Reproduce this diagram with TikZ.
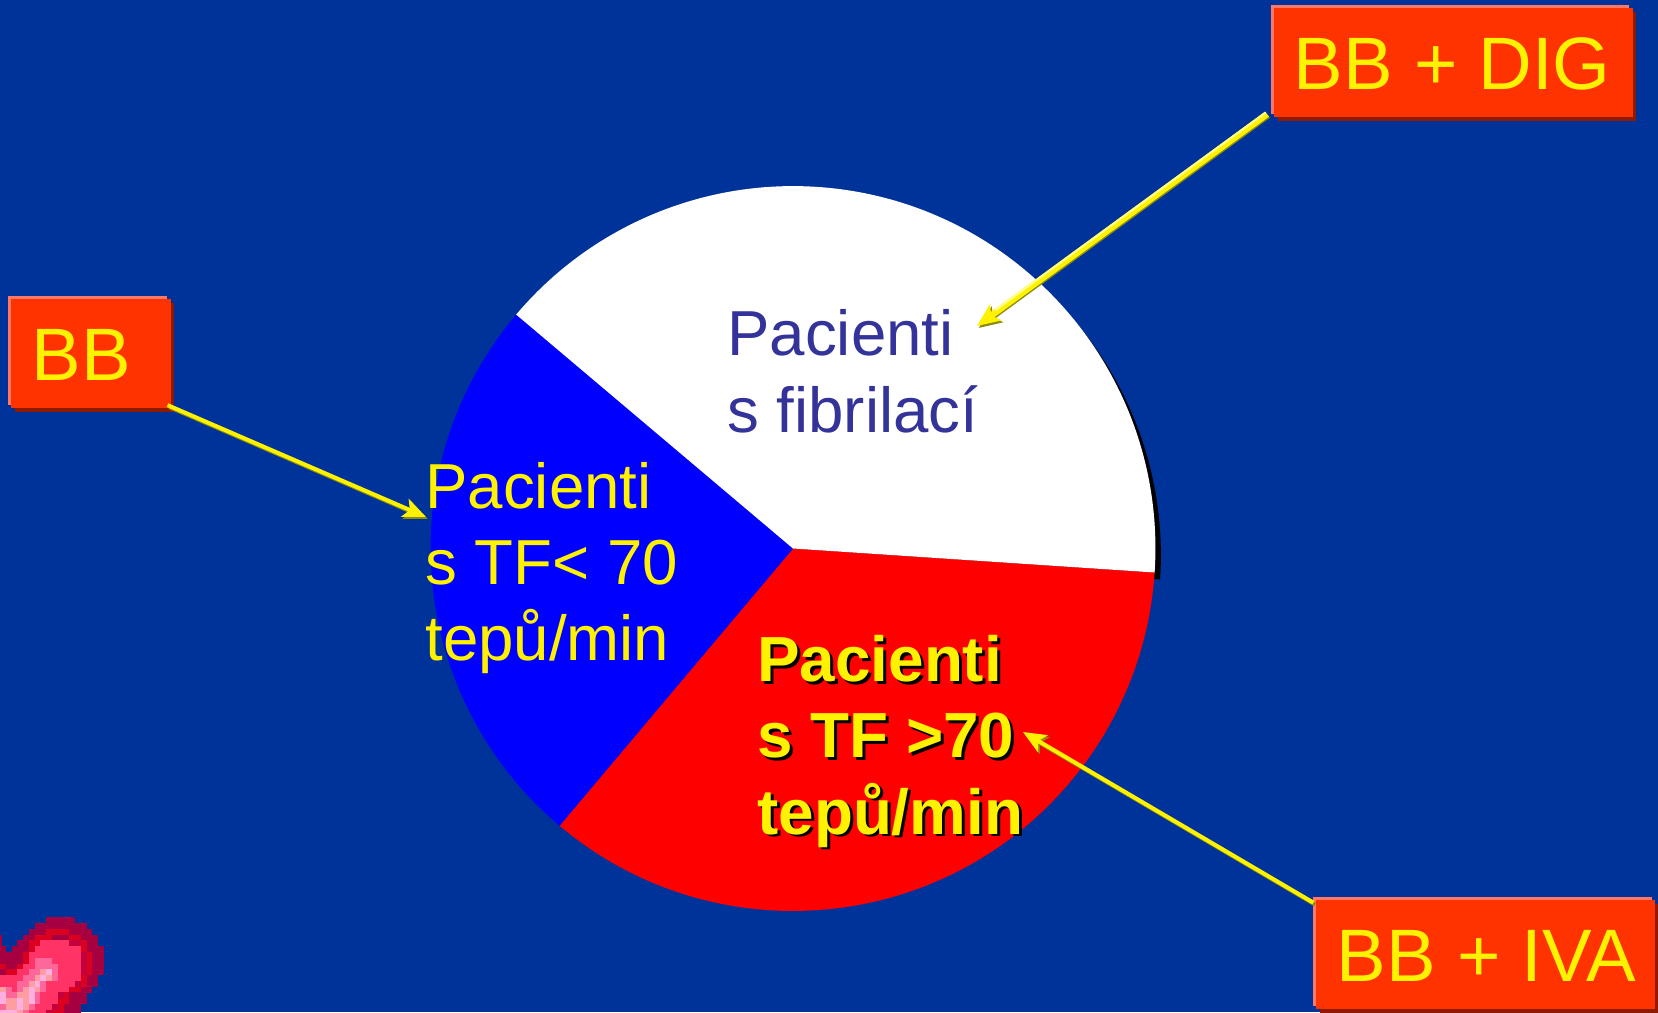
\documentclass[tikz,border=0pt]{standalone}
\usepackage{fontspec}
\setmainfont{Liberation Sans}
\usepackage{xcolor}
\usepackage{tikz}
\usetikzlibrary{arrows.meta,positioning,shadows}

\definecolor{slidebg}{HTML}{003399}
\definecolor{tagred}{HTML}{FF3300}
\definecolor{taglight}{HTML}{FF7766}
\definecolor{tagdark}{HTML}{8F1A00}
\definecolor{indigotext}{HTML}{333399}
\definecolor{arrowolive}{HTML}{8C8C10}
\definecolor{arrowlight}{HTML}{FFFF90}
\definecolor{heartD}{HTML}{A60040}
\definecolor{heartC}{HTML}{C4003C}
\definecolor{heartR}{HTML}{DC0020}
\definecolor{heartP}{HTML}{FF3366}
\definecolor{heartL}{HTML}{FF6699}
\definecolor{heartF}{HTML}{FF9EA0}
\definecolor{heartW}{HTML}{FFB0E0}

\begin{document}
\begin{tikzpicture}[
    x=0.02cm, y=-0.02cm,
    tagbox/.style={anchor=north west, rectangle, fill=tagred, text=yellow, inner xsep=10.5pt, inner ysep=0pt,
        font=\fontsize{42.3}{48}\selectfont, align=left, text height=30pt, text depth=0pt, minimum height=62pt,
        general shadow={fill=taglight, shadow xshift=-2pt, shadow yshift=1.7pt},
        general shadow={fill=tagdark, shadow xshift=2pt, shadow yshift=-2.2pt}},
    slicetext/.style={anchor=base west, inner sep=0pt, align=left, font=\fontsize{36.2}{43.4}\selectfont},
    boldtext/.style={slicetext, font=\fontsize{36.3}{43.4}\selectfont\bfseries},
    linkarrow/.style={draw=yellow, line width=2.3pt, -{Stealth[length=13pt,width=11pt,inset=3pt]},
        preaction={draw=arrowolive, line width=2.3pt, -{Stealth[length=13pt,width=11pt,inset=3pt]},
            transform canvas={xshift=1pt,yshift=-1.1pt}}}
]

% Background
\fill[slidebg] (0,0) rectangle (1658,1012);
\useasboundingbox (0,0) rectangle (1658,1012);

% Pie
\coordinate (pie) at (793,548.5);
\fill[black] ([xshift=3.1pt,yshift=-4pt]pie) -- ++(-3.8:7.25cm) arc[start angle=-3.8, end angle=139.8, radius=7.25cm] -- cycle;
\fill[red] (pie) -- ++(229.9:7.25cm) arc[start angle=229.9, end angle=356.2, radius=7.25cm] -- cycle;
\fill[blue] (pie) -- ++(139.8:7.25cm) arc[start angle=139.8, end angle=229.9, radius=7.25cm] -- cycle;
\fill[white] (pie) -- ++(-3.8:7.25cm) arc[start angle=-3.8, end angle=139.8, radius=7.25cm] -- cycle;

% Slice labels
\node[slicetext, text=indigotext] (fibrilace) at (727,432) {Pacienti\\s fibrilací};
\node[slicetext, text=yellow] (tfnizka) at (425,660.5) {Pacienti\\s TF< 70\\tepů/min};
\node[boldtext, text=black] (tfvysokastin) at (760,836.5) {Pacienti\\s TF >70\\tepů/min};
\node[boldtext, text=yellow] (tfvysoka) at (757,834) {Pacienti\\s TF >70\\tepů/min};

% Treatment boxes
\node[tagbox, text width=182pt, minimum width=204pt] (bbdig) at (1274,8) {\spaceskip=0.285em\relax BB + DIG};
\node[tagbox, inner xsep=11.6pt, text width=67.5pt, minimum width=90.7pt] (bb) at (11,299) {BB};
\node[tagbox, inner xsep=11.6pt, text width=169.8pt, minimum width=193pt] (bbiva) at (1316,900) {\spaceskip=0.285em\relax \mbox{BB + IVA}};

% Arrow ends
\coordinate (dightip) at (977,326);
\coordinate (bbtip) at (426,517);
\coordinate (ivatip) at (1023,732);

% Arrows
\draw[linkarrow, line width=3.6pt,
    postaction={draw=arrowlight, line width=1.2pt, arrows=-, shorten >=14pt, transform canvas={xshift=-0.7pt,yshift=0.9pt}}]
    ([xshift=-4pt,yshift=2pt]bbdig.south west) -- (dightip);
\draw[linkarrow] ([xshift=-2pt,yshift=2pt]bb.south east) -- (bbtip);
\draw[linkarrow] ([xshift=-1.5pt,yshift=-1.5pt]bbiva.north west) -- (ivatip);

% Heart
\begin{scope}[shift={(0,917.3)}, x=0.1156cm, y=-0.1156cm]
\foreach \rw/\from/\to/\cc in {
    0/8/12/D, 1/6/14/D, 2/5/15/D, 2/8/11/R,
    3/0/-0.7/D, 3/4/16/D, 3/6/8/R, 3/12/13/R,
    4/0/-0.7/D, 4/3/16/D, 4/5/6/R, 4/7/11/P, 4/12/13/C, 4/14/14/R,
    5/0/0/D, 5/2/17/D, 5/5/5/R, 5/6/13/P, 5/14/14/R,
    6/0/17/D, 6/4/4/R, 6/5/13/P, 6/14/14/C, 6/15/15/R,
    7/0/17/D, 7/4/4/R, 7/5/5/P, 7/6/8/L, 7/9/13/P, 7/14/14/C, 7/15/15/R,
    8/0/17/D, 8/0/0/R, 8/3/3/R, 8/4/5/P, 8/6/9/L, 8/10/13/P, 8/14/14/C, 8/15/15/R,
    9/0/17/D, 9/1/2/R, 9/3/4/P, 9/5/6/L, 9/7/7/F, 9/8/8/W, 9/9/9/L, 9/10/13/P, 9/14/14/C, 9/15/15/R,
    10/0/16/D, 10/0/3/P, 10/4/5/L, 10/6/6/F, 10/7/7/W, 10/8/8/F, 10/9/9/L, 10/10/13/P, 10/14/14/R,
    11/0/16/D, 11/0/2/P, 11/3/4/L, 11/5/5/F, 11/6/6/W, 11/7/7/L, 11/8/12/P, 11/13/13/C, 11/14/14/R,
    12/0/15/D, 12/0/0/F, 12/1/1/L, 12/2/2/P, 12/3/3/L, 12/4/4/F, 12/5/5/W, 12/6/6/F, 12/7/7/L, 12/8/11/P, 12/12/13/R,
    13/0/14/D, 13/0/0/W, 13/1/2/L, 13/3/4/F, 13/5/5/W, 13/6/6/L, 13/7/9/P, 13/10/10/C, 13/11/11/R,
    14/0/14/D, 14/0/0/W, 14/1/2/F, 14/3/3/W, 14/4/4/F, 14/5/5/W, 14/6/6/L, 14/7/9/P, 14/10/11/R,
    15/0/13/D, 15/0/0/L, 15/1/2/F, 15/3/3/W, 15/4/4/F, 15/5/5/L, 15/6/8/P, 15/9/9/C, 15/10/10/R,
    16/0/13/D, 16/0/2/W, 16/3/3/F, 16/4/4/L, 16/5/7/P, 16/8/8/C, 16/9/10/R}
    \fill[heart\cc] (\from,\rw) rectangle (\to+1,\rw+1.02);
\end{scope}

\end{tikzpicture}
\end{document}
